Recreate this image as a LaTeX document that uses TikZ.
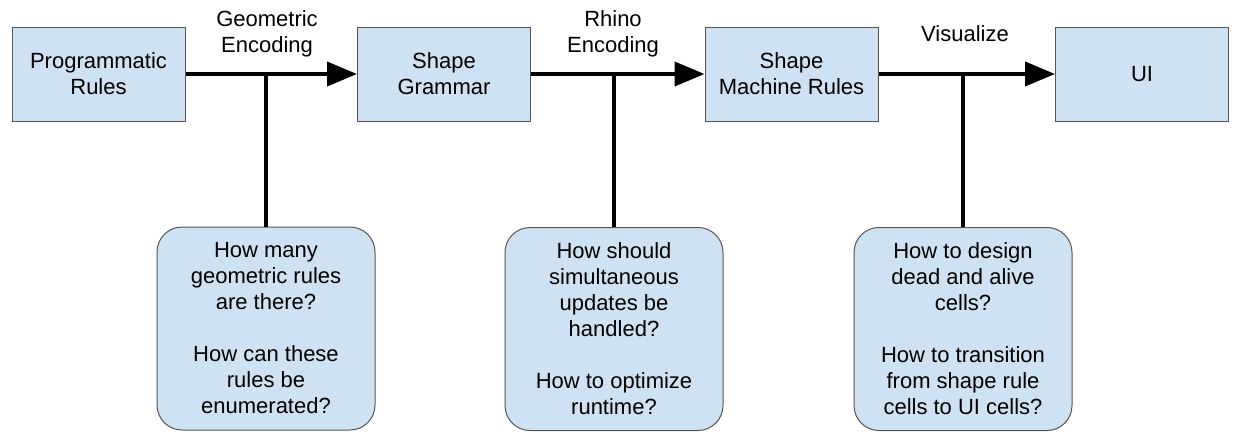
\documentclass[tikz,border=0pt]{standalone}
\usepackage{fontspec}
\setmainfont{Liberation Sans}
\usetikzlibrary{arrows.meta}
\definecolor{boxblue}{HTML}{CFE2F3}
\definecolor{boxline}{HTML}{555555}

\begin{document}
\begin{tikzpicture}[x=1pt, y=-1pt, every node/.style={font=\fontsize{22}{26}\selectfont, align=center},
  stage/.style={draw=boxline, fill=boxblue, line width=1pt, minimum width=173pt, minimum height=94pt},
  question/.style={stage, rounded corners=25pt, minimum width=218pt, minimum height=203pt},
  flow/.style={line width=4pt, -{Triangle[length=30pt,width=24pt]}},
  stem/.style={line width=4pt}]
 \useasboundingbox (0,0) rectangle (1234,432);
 % pipeline stages
 \node[stage] (prog) at (98.5,74) {Programmatic\\Rules};
 \node[stage] (gram) at (444,74) {Shape\\Grammar};
 \node[stage] (mach) at (791.5,74) {Shape\\Machine Rules};
 \node[stage] (ui) at (1142,74) {UI};
 % transitions
 \draw[flow] (prog) -- (gram);
 \draw[flow] (gram) -- (mach);
 \draw[flow] (mach) -- (ui);
 \node (geo) at (267,34) {Geometric\\Encoding};
 \node (rhino) at (613,34) {Rhino\\Encoding};
 \node (vis) at (965,34) {Visualize};
 % open questions
 \node[question] (q1) at (266,328.5) {How many\\geometric rules\\are there?\\[26pt]How can these\\rules be\\enumerated?};
 \node[question] (q2) at (614,329) {How should\\simultaneous\\updates be\\handled?\\[26pt]How to optimize\\runtime?};
 \node[question] (q3) at (963,329) {How to design\\dead and alive\\cells?\\[26pt]How to transition\\from shape rule\\cells to UI cells?};
 \draw[stem] (q1) -- (q1 |- prog);
 \draw[stem] (q2) -- (q2 |- gram);
 \draw[stem] (q3) -- (q3 |- mach);
\end{tikzpicture}
\end{document}
